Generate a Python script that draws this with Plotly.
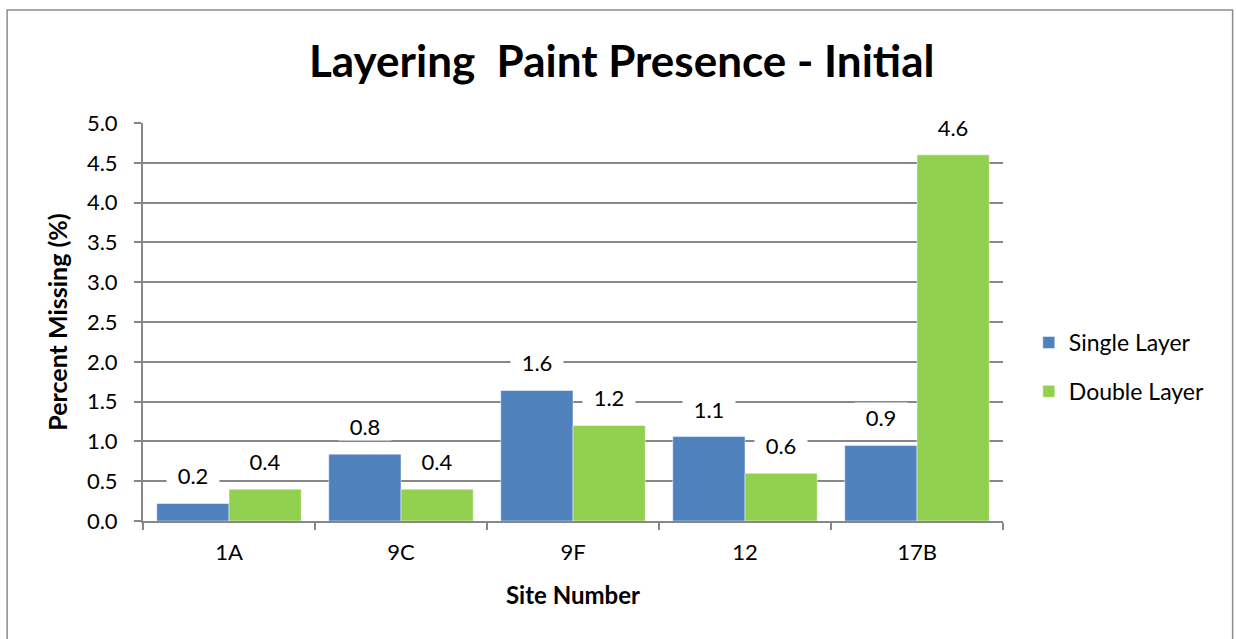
import plotly.graph_objects as go

# Site categories and percent-missing values per layering method
sites = ["1A", "9C", "9F", "12", "17B"]
single_layer = [0.22, 0.84, 1.64, 1.06, 0.95]
double_layer = [0.40, 0.40, 1.20, 0.60, 4.60]
y_ticks = [0.0, 0.5, 1.0, 1.5, 2.0, 2.5, 3.0, 3.5, 4.0, 4.5, 5.0]

BLUE = "#4F81BD"
GREEN = "#92D050"
GRID = "#878787"
FONT = "Lato, Carlito, Calibri, sans-serif"

# Numeric positions for the sites so that labels and boundary ticks line up
x_pos = list(range(len(sites)))
boundaries = [i - 0.5 for i in x_pos] + [x_pos[-1] + 0.5]

fig = go.Figure()
fig.add_trace(go.Bar(name="Single Layer", x=x_pos, y=single_layer, legendgroup="s",
                     marker=dict(color=BLUE, line=dict(color="white", width=0.5))))
fig.add_trace(go.Bar(name="Double Layer", x=x_pos, y=double_layer, legendgroup="d",
                     marker=dict(color=GREEN, line=dict(color="white", width=0.5))))

# Value labels on white boxes that break the gridlines
for vals, shift in ((single_layer, -36), (double_layer, 36)):
    for xi, v in zip(x_pos, vals):
        fig.add_annotation(x=xi, y=v, text=f"{v:.1f}", showarrow=False,
                           xshift=shift, yshift=28, yanchor="middle",
                           bgcolor="white", width=50, height=26,
                           font=dict(family=FONT, size=22, color="black"))

fig.update_layout(
    width=1236, height=639,
    paper_bgcolor="white", plot_bgcolor="white",
    margin=dict(l=143, r=233, t=123, b=118),
    barmode="group", bargap=0.16, bargroupgap=0.0,
    title=dict(text="<b>Layering  Paint Presence - Initial</b>",
               x=0.503, xanchor="center", xref="container", y=0.903, yanchor="middle",
               font=dict(family=FONT, size=44, color="black")),
    font=dict(family=FONT, color="black"),
    legend=dict(x=1.03, xanchor="left", y=0.387, yanchor="middle",
                font=dict(family=FONT, size=23, color="black"),
                tracegroupgap=16, itemwidth=30, bgcolor="rgba(0,0,0,0)"),
    showlegend=True,
)

fig.update_xaxes(
    range=[-0.5, len(sites) - 0.5], tickmode="array", tickvals=x_pos, ticktext=sites,
    ticks="", ticklabelstandoff=11,
    minor=dict(tickmode="array", tickvals=boundaries, ticks="outside", ticklen=7,
               tickcolor=GRID, tickwidth=1.5, showgrid=False),
    showline=True, linecolor=GRID, linewidth=2, showgrid=False, zeroline=False,
    tickfont=dict(family=FONT, size=22, color="black"),
    title=dict(text="<b>Site Number</b>", font=dict(family=FONT, size=24, color="black"),
               standoff=23),
)
fig.update_yaxes(
    range=[0, 5.0], tickvals=y_ticks, ticktext=[f"{t:.1f}" for t in y_ticks],
    ticks="outside", ticklen=7, tickcolor=GRID, tickwidth=1.5, ticklabelstandoff=12,
    showline=True, linecolor=GRID, linewidth=2,
    showgrid=True, gridcolor=GRID, gridwidth=1.5, zeroline=False,
    tickfont=dict(family=FONT, size=22, color="black"),
    title=dict(text="<b>Percent Missing (%)</b>", font=dict(family=FONT, size=25, color="black"),
               standoff=12),
)

# Chart frame
fig.add_shape(type="rect", xref="paper", yref="paper",
              x0=-0.158, x1=1.267, y0=-0.32, y1=1.284,
              line=dict(color="#8C8C8C", width=1.5), fillcolor="rgba(0,0,0,0)", layer="below")

fig.write_html("out.html")
